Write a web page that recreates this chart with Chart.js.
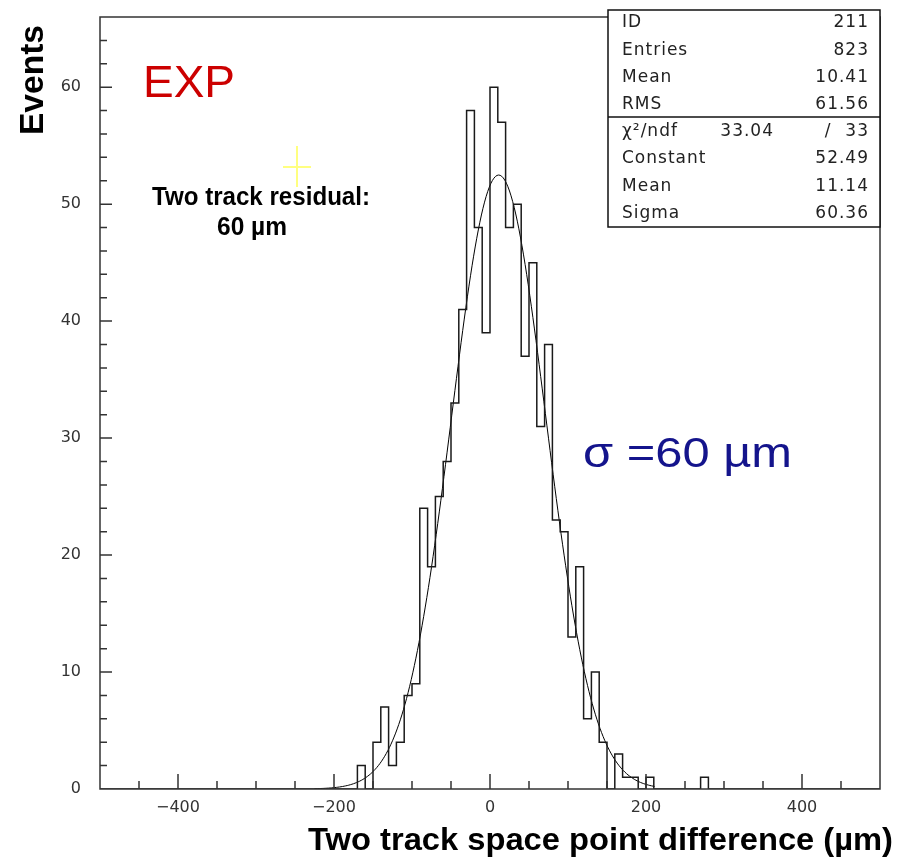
<!DOCTYPE html>
<html>
<head>
<meta charset="utf-8">
<script src="https://cdn.jsdelivr.net/npm/chart.js@4.4.1/dist/chart.umd.min.js"></script>
<style>
    html, body { margin: 0; padding: 0; background: #fff; }
    #wrap { width: 907px; height: 857px; position: relative; }
</style>
</head>
<body>
<div id="wrap"><canvas id="hist"></canvas></div>
<script>
(function () {
    "use strict";

    // histogram: low edge of each 10 um bin and its entries
    const binLow = [-170, -160, -150, -140, -130, -120, -110, -100, -90, -80,
                    -70, -60, -50, -40, -30, -20, -10, 0, 10, 20,
                    30, 40, 50, 60, 70, 80, 90, 100, 110, 120,
                    130, 140, 150, 160, 170, 180, 190, 200, 270];
    const counts = [2, 0, 4, 7, 2, 4, 8, 9, 24, 19,
                    25, 28, 33, 41, 58, 48, 39, 60, 57, 48,
                    50, 37, 45, 31, 38, 23, 22, 13, 19, 6,
                    10, 4, 0, 3, 1, 1, 0, 1, 1];
    const binWidth = 10;
    const xRange = [-500, 500];
    const yRange = [0, 66];
    const xTickLabels = [-400, -200, 0, 200, 400];
    const yTickLabels = [0, 10, 20, 30, 40, 50, 60];

    // gaussian fit, parameters as printed in the stats box
    const fitConstant = 52.49;
    const fitMean = 11.14;
    const fitSigma = 60.36;
    const fitRange = [-225, 211];

    const statsRows = [["ID", "211"], ["Entries", "823"], ["Mean", "10.41"], ["RMS", "61.56"]];
    const chiRow = ["\u03c7\u00b2/ndf", "33.04", "/", "33"];
    const fitRows = [["Constant", "52.49"], ["Mean", "11.14"], ["Sigma", "60.36"]];

    // step outline over the whole axis range
    const byEdge = {};
    binLow.forEach((e, i) => { byEdge[e] = counts[i]; });
    const histPoints = [];
    for (let e = xRange[0]; e < xRange[1]; e += binWidth) {
        histPoints.push({ x: e, y: byEdge[e] || 0 });
    }
    histPoints.push({ x: xRange[1], y: 0 });

    const fitPoints = [];
    for (let x = fitRange[0]; x <= fitRange[1]; x += 2) {
        const t = (x - fitMean) / fitSigma;
        fitPoints.push({ x: x, y: fitConstant * Math.exp(-0.5 * t * t) });
    }

    function fitText(ctx, text, x, y, width, font, color) {
        ctx.save();
        ctx.font = font;
        ctx.fillStyle = color;
        ctx.textBaseline = "alphabetic";
        ctx.textAlign = "left";
        const w = ctx.measureText(text).width;
        ctx.translate(x, y);
        ctx.scale(width / w, 1);
        ctx.fillText(text, 0, 0);
        ctx.restore();
    }

    const framePlugin = {
        id: "frame",
        afterDraw(chart) {
            const ctx = chart.ctx;
            const a = chart.chartArea;
            const xs = chart.scales.x;
            const ys = chart.scales.y;

            ctx.save();
            ctx.strokeStyle = "#333";
            ctx.lineWidth = 1.5;
            ctx.strokeRect(a.left, a.top, a.right - a.left, a.bottom - a.top);

            // inward ticks
            ctx.beginPath();
            for (let v = -450; v <= 450; v += 50) {
                const px = xs.getPixelForValue(v);
                const len = v % 200 === 0 ? 15 : 8;
                ctx.moveTo(px, a.bottom);
                ctx.lineTo(px, a.bottom - len);
            }
            for (let v = 2; v <= 64; v += 2) {
                const py = ys.getPixelForValue(v);
                const len = v % 10 === 0 ? 12 : 7;
                ctx.moveTo(a.left, py);
                ctx.lineTo(a.left + len, py);
            }
            ctx.stroke();
            ctx.restore();

            // axis titles
            ctx.save();
            ctx.translate(43, 135);
            ctx.rotate(-Math.PI / 2);
            fitText(ctx, "Events", 0, 0, 110, "bold 34px 'Liberation Sans'", "#000");
            ctx.restore();
            fitText(ctx, "Two track space point difference (\u00b5m)", 308, 850, 585,
                "bold 31px 'Liberation Sans'", "#000");

            // annotations
            fitText(ctx, "EXP", 143, 97, 92, "44px 'Liberation Sans'", "#cc0000");
            fitText(ctx, "Two track residual:", 152, 205, 218, "bold 25px 'Liberation Sans'", "#000");
            fitText(ctx, "60 \u00b5m", 217, 235, 70, "bold 25px 'Liberation Sans'", "#000");
            fitText(ctx, "\u03c3 =60 \u00b5m", 583, 467, 209, "42px 'Liberation Sans'", "#14148c");

            ctx.save();
            ctx.strokeStyle = "#ffff80";
            ctx.lineWidth = 2;
            ctx.beginPath();
            ctx.moveTo(283, 167); ctx.lineTo(311, 167);
            ctx.moveTo(297, 146); ctx.lineTo(297, 187);
            ctx.stroke();
            ctx.restore();

            // stats box
            const bx = 608, by = 10, bw = 272, bh = 217;
            ctx.save();
            ctx.fillStyle = "#fff";
            ctx.fillRect(bx, by, bw, bh);
            ctx.strokeStyle = "#111";
            ctx.lineWidth = 1.5;
            ctx.strokeRect(bx, by, bw, bh);
            ctx.beginPath();
            ctx.moveTo(bx, 117); ctx.lineTo(bx + bw, 117);
            ctx.stroke();

            ctx.font = "17px 'DejaVu Sans'";
            ctx.letterSpacing = "1px";
            ctx.fillStyle = "#222";
            ctx.textBaseline = "middle";
            const rowY = (i) => 23 + i * 27.2;
            statsRows.forEach((r, i) => {
                ctx.textAlign = "left";
                ctx.fillText(r[0], 622, rowY(i));
                ctx.textAlign = "right";
                ctx.fillText(r[1], 869, rowY(i));
            });
            ctx.textAlign = "left";
            ctx.fillText(chiRow[0], 622, rowY(4));
            ctx.textAlign = "right";
            ctx.fillText(chiRow[1], 774, rowY(4));
            ctx.textAlign = "center";
            ctx.fillText(chiRow[2], 828, rowY(4));
            ctx.textAlign = "right";
            ctx.fillText(chiRow[3], 869, rowY(4));
            fitRows.forEach((r, i) => {
                ctx.textAlign = "left";
                ctx.fillText(r[0], 622, rowY(i + 5));
                ctx.textAlign = "right";
                ctx.fillText(r[1], 869, rowY(i + 5));
            });
            ctx.restore();
        }
    };

    const ctx = document.getElementById("hist").getContext("2d");
    new Chart(ctx, {
        type: "line",
        data: {
            datasets: [
                {
                    data: histPoints,
                    stepped: true,
                    borderColor: "#1a1a1a",
                    borderWidth: 1.5,
                    pointRadius: 0,
                    fill: false,
                },
                {
                    data: fitPoints,
                    borderColor: "#000",
                    borderWidth: 1,
                    pointRadius: 0,
                    fill: false,
                    tension: 0,
                },
            ],
        },
        options: {
            responsive: true,
            maintainAspectRatio: false,
            animation: false,
            events: [],
            layout: { padding: { top: 17, right: 27, left: 0, bottom: 0 } },
            plugins: {
                legend: { display: false },
                tooltip: { enabled: false },
            },
            scales: {
                x: {
                    type: "linear",
                    min: xRange[0],
                    max: xRange[1],
                    grid: { display: false, drawTicks: false },
                    border: { display: false },
                    ticks: {
                        padding: 9,
                        color: "#333",
                        font: { family: "'DejaVu Sans'", size: 16 },
                        callback: (v) => (v < 0 ? "\u2212" + Math.abs(v) : String(v)),
                    },
                    afterBuildTicks: (s) => { s.ticks = xTickLabels.map((v) => ({ value: v })); },
                    afterFit: (s) => { s.height = 68; s.paddingLeft = 0; s.paddingRight = 0; },
                },
                y: {
                    min: yRange[0],
                    max: yRange[1],
                    grid: { display: false, drawTicks: false },
                    border: { display: false },
                    ticks: {
                        padding: 19,
                        color: "#333",
                        font: { family: "'DejaVu Sans'", size: 16 },
                    },
                    afterBuildTicks: (s) => { s.ticks = yTickLabels.map((v) => ({ value: v })); },
                    afterFit: (s) => { s.width = 100; s.paddingTop = 0; s.paddingBottom = 0; },
                },
            },
        },
        plugins: [framePlugin],
    });
})();
</script>
</body>
</html>
